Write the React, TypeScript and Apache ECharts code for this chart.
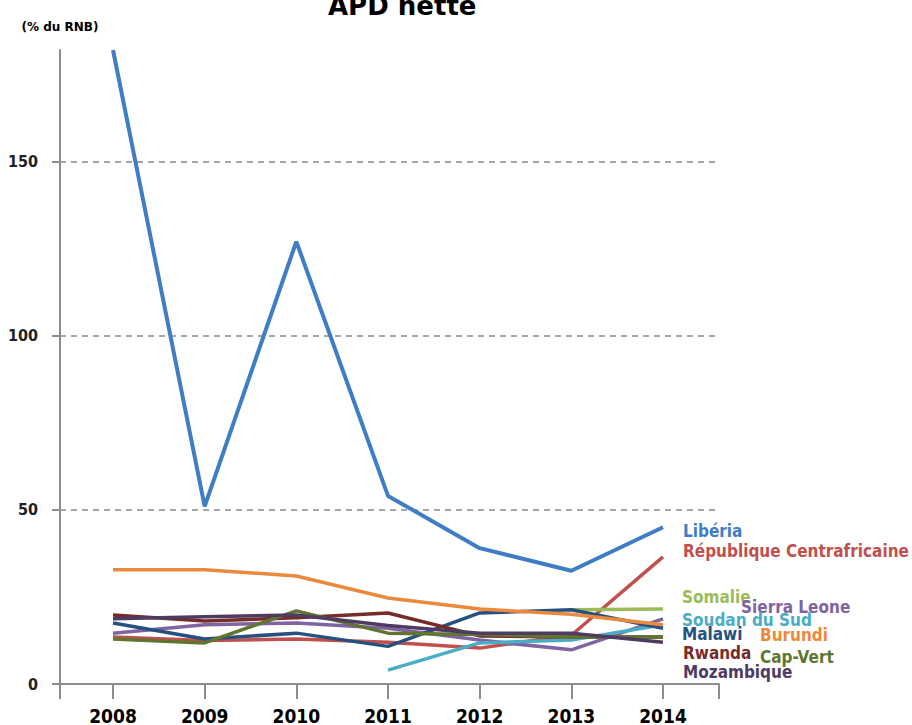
import React, { useEffect, useRef } from "react";
import * as echarts from "echarts";

const years = ["2008", "2009", "2010", "2011", "2012", "2013", "2014"];

const liberia = [182, 51, 127, 54, 39, 32.5, 45];
const rca = [13.5, 12.5, 12.9, 12, 10.3, 14, 36.5];
const somalie = [null, null, null, null, null, 21.3, 21.5];
const sierraLeone = [14.6, 17, 17.5, 16, 12.6, 9.8, 18.7];
const soudanDuSud = [null, null, null, 4, 11.8, 12.6, 17];
const malawi = [17.5, 12.9, 14.6, 10.8, 20.4, 21.3, 16];
const burundi = [32.8, 32.8, 31, 24.7, 21.5, 20, 17];
const rwanda = [19.8, 18.1, 19, 20.4, 13.8, 13.5, 13.5];
const capVert = [12.9, 11.8, 21, 14.6, 14.2, 13.5, 13.5];
const mozambique = [18.7, 19.3, 19.8, 16.8, 14.6, 14.6, 12];

const yMin = 0;
const yMax = 182;
const yInterval = 50;

const AXIS = "#8c8c8c";
const LABEL_FONT = "DejaVu Sans";
const COND_FONT = "DejaVu Sans Condensed";

type S = { name: string; data: (number | null)[]; color: string; width: number; off: [number, number] };

const seriesDefs: S[] = [
  { name: "Libéria", data: liberia, color: "#3f7dc4", width: 4, off: [20, 4] },
  { name: "République Centrafricaine", data: rca, color: "#c0504d", width: 3.5, off: [20, -6] },
  { name: "Somalie", data: somalie, color: "#9bbb59", width: 3.5, off: [19, -12] },
  { name: "Sierra Leone", data: sierraLeone, color: "#8064a2", width: 3.5, off: [78, -12] },
  { name: "Soudan du Sud", data: soudanDuSud, color: "#4bacc6", width: 3.5, off: [19, -5] },
  { name: "Malawi", data: malawi, color: "#25507f", width: 3.5, off: [19, 6] },
  { name: "Burundi", data: burundi, color: "#eb8a3c", width: 3.5, off: [97, 10] },
  { name: "Rwanda", data: rwanda, color: "#772c2a", width: 3.5, off: [20, 16] },
  { name: "Cap-Vert", data: capVert, color: "#5f7530", width: 3.5, off: [97, 20] },
  { name: "Mozambique", data: mozambique, color: "#4d3b62", width: 3.5, off: [20, 30] },
];

export default function App() {
  const ref = useRef<HTMLDivElement>(null);
  useEffect(() => {
    if (!ref.current) return;
    const chart = echarts.init(ref.current, null, { renderer: "svg" });
    chart.setOption({
      animation: false,
      backgroundColor: "#ffffff",
      title: {
        text: "APD nette",
        left: 323,
        top: -12,
        textStyle: { fontSize: 26, fontWeight: "bold", color: "#000", fontFamily: LABEL_FONT },
      },
      grid: [
        { left: 60, right: 193, top: 50, bottom: 41 },
        { left: 113, right: 249, top: 50, bottom: 41 },
      ],
      xAxis: [
        {
          gridIndex: 0,
          type: "value",
          min: 0,
          max: 1,
          interval: 1,
          axisLine: { show: true, lineStyle: { color: AXIS, width: 2 } },
          axisTick: { show: true, length: 15, lineStyle: { color: AXIS, width: 2 } },
          axisLabel: { show: false },
          splitLine: { show: false },
        },
        {
          gridIndex: 1,
          type: "category",
          data: years,
          boundaryGap: false,
          axisLine: { show: false },
          axisTick: { show: true, length: 15, lineStyle: { color: AXIS, width: 2 } },
          axisLabel: {
            fontSize: 19,
            fontWeight: "bold",
            color: "#000",
            fontFamily: COND_FONT,
            margin: 22,
          },
          splitLine: { show: false },
        },
      ],
      yAxis: [
        {
          gridIndex: 0,
          type: "value",
          min: yMin,
          max: yMax,
          interval: yInterval,
          name: "(% du RNB)",
          nameLocation: "end",
          nameGap: 17,
          nameTextStyle: { fontSize: 12, fontWeight: "bold", color: "#000", fontFamily: LABEL_FONT },
          axisLine: { show: true, lineStyle: { color: AXIS, width: 2 } },
          axisTick: { show: true, length: 8, lineStyle: { color: AXIS, width: 2 } },
          axisLabel: {
            fontSize: 16,
            fontWeight: "bold",
            color: "#222",
            fontFamily: COND_FONT,
            margin: 22,
            showMaxLabel: false,
          },
          splitLine: {
            show: true,
            showMaxLine: false,
            lineStyle: { type: [6, 5], color: "#8a8a8a", width: 1.5 },
          },
        },
        { gridIndex: 1, type: "value", min: yMin, max: yMax, show: false },
      ],
      series: seriesDefs.map((s) => ({
        name: s.name,
        type: "line",
        xAxisIndex: 1,
        yAxisIndex: 1,
        data: s.data,
        symbol: "none",
        connectNulls: false,
        lineStyle: { color: s.color, width: s.width },
        itemStyle: { color: s.color },
        endLabel: {
          show: true,
          formatter: s.name,
          color: s.color,
          fontSize: 17,
          fontWeight: "bold",
          fontFamily: COND_FONT,
          distance: 0,
          offset: s.off,
        },
      })),
    });
    return () => chart.dispose();
  }, []);
  return (
    <div
      ref={ref}
      style={{ position: "fixed", left: 0, top: 0, width: 912, height: 725 }}
    />
  );
}
